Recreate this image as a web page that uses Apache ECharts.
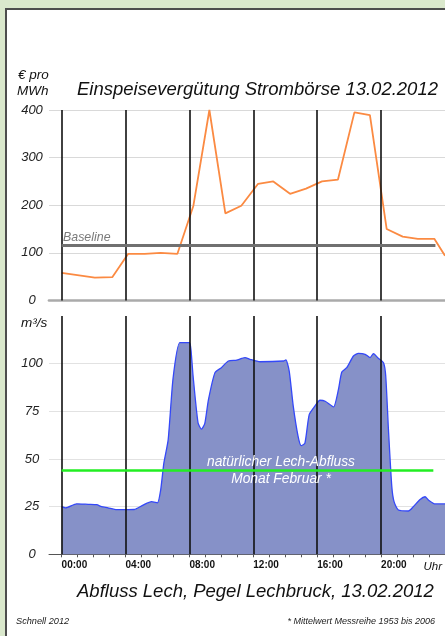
<!DOCTYPE html>
<html><head><meta charset="utf-8">
<script src="https://cdn.jsdelivr.net/npm/echarts@6/dist/echarts.min.js"></script>
<style>html,body{margin:0;padding:0;background:#dae8cc}#c{width:445px;height:636px}</style>
</head><body><div id="c"></div>
<script>
// Strombörse price (€ pro MWh), time in hours
const priceHours  = [0, 2.08, 3.17, 4.17, 5.2, 6.2, 7.25, 8.25, 9.25, 10.25, 11.25, 12.3, 13.25, 14.3, 15.3, 16.3, 17.3, 18.33, 19.3, 20.35, 21.35, 22.3, 23.33, 24];
const priceValues = [58, 48, 49, 98, 98, 100, 98, 199, 400, 183, 199, 245, 250, 224, 235, 250, 254, 395, 389, 150, 134, 129.5, 129.5, 94];
// Abfluss Lech (m³/s)
const flowHours  = [0, 0.25, 0.94, 1.67, 2.2, 2.5, 2.9, 3.45, 4.55, 5.1, 5.63, 6.0, 6.2, 6.4, 6.67, 6.98, 7.4, 8.0, 8.1, 8.23, 8.54, 8.75, 8.96, 9.19, 9.6, 10.0, 10.44, 10.96, 11.48, 11.79, 12.42, 13.9, 14.04, 14.25, 14.5, 14.8, 15.0, 15.23, 15.5, 15.85, 16.17, 16.5, 17.02, 17.33, 17.54, 17.85, 18.27, 18.58, 19.0, 19.31, 19.52, 19.83, 20.15, 20.29, 20.46, 20.67, 20.81, 21.08, 21.71, 22.02, 22.44, 22.75, 22.96, 23.38, 24.0];
const flowValues = [25, 24.4, 26.5, 26.2, 26, 25, 24.4, 23.4, 23.5, 25.8, 27.6, 27, 33.7, 47.8, 60, 92.6, 111, 111, 107, 93.5, 68.9, 65.7, 68.5, 81, 95.3, 97.9, 101.4, 101.9, 103.2, 102.3, 101, 101.4, 102, 96, 77.7, 62, 57, 58.3, 73.3, 77.7, 80.8, 80.3, 77.3, 86.5, 95.6, 97.9, 104, 105.4, 104.9, 103.2, 105.3, 102.8, 100.5, 93.5, 65.4, 35.5, 27.6, 23.2, 22.7, 25, 28.8, 30.2, 28.5, 26.4, 26.4];

const divisionHours = [0, 4, 8, 12, 16, 20];
const tickHours = [0,1,2,3,4,5,6,7,8,9,10,11,12,13,14,15,16,17,18,19,20,21,22,23,24];
const labelHours = [0, 4, 8, 12, 16, 20];
const unitLabelHour = 22.65;
const baselineValue = 115.5, baselineEnd = 23.4;
const naturalFlowValue = 44.2, naturalFlowEnd = 23.27;

const FONT = 'Liberation Sans, Arial, sans-serif';
const zip = (a, b) => a.map((x, i) => [x, b[i]]);
const verticals = divisionHours.map(h => ({ xAxis: h, lineStyle: { color: '#111', width: 1.6, type: 'solid' } }));
const txt = (x, y, text, size, fill, extra) => ({ type: 'text', x, y, z: 100,
  style: Object.assign({ text, fontFamily: FONT, fontStyle: 'italic', fontSize: size, fill, verticalAlign: 'middle' }, extra || {}) });

const chart = echarts.init(document.getElementById('c'));
chart.setOption({
  animation: false,
  backgroundColor: '#dae8cc',
  grid: [
    { left: 49, right: 0, top: 110, height: 190.5 },
    { left: 49, right: 0, top: 316, height: 238.3 }
  ],
  xAxis: [
    { gridIndex: 0, type: 'value', min: -0.79, max: 24,
      axisLine: { show: true, onZero: false, lineStyle: { color: '#aaaaaa', width: 2.7 } },
      axisTick: { show: false }, axisLabel: { show: false }, splitLine: { show: false } },
    { gridIndex: 1, type: 'value', min: -0.79, max: 24,
      axisLine: { show: true, onZero: false, lineStyle: { color: '#555', width: 1 } },
      axisTick: { show: true, customValues: tickHours, length: 3, lineStyle: { color: '#555' } },
      axisLabel: { show: true, customValues: labelHours.concat([unitLabelHour]), align: 'left', margin: 6,
        fontFamily: FONT, fontWeight: 'bold', fontSize: 10, color: '#111',
        formatter: v => v > 21 ? '{u|Uhr}' : (String(Math.round(v)).padStart(2, '0') + ':00'),
        rich: { u: { fontFamily: FONT, fontStyle: 'italic', fontWeight: 'normal', fontSize: 11.5, color: '#111' } } },
      splitLine: { show: false } }
  ],
  yAxis: [
    { gridIndex: 0, type: 'value', min: 0, max: 400, interval: 100,
      axisLine: { show: false }, axisTick: { show: false },
      axisLabel: { align: 'center', margin: 17, fontFamily: FONT, fontStyle: 'italic', fontSize: 13, color: '#222' },
      splitLine: { show: true, showMinLine: false, lineStyle: { color: '#d9d9d9', width: 1.2 } } },
    { gridIndex: 1, type: 'value', min: 0, max: 125, interval: 25,
      axisLine: { show: false }, axisTick: { show: false },
      axisLabel: { align: 'center', margin: 17, showMaxLabel: false, fontFamily: FONT, fontStyle: 'italic', fontSize: 13, color: '#222' },
      splitLine: { show: true, showMinLine: false, showMaxLine: false, lineStyle: { color: '#e2e2e2', width: 1.2 } } }
  ],
  series: [
    { type: 'line', xAxisIndex: 0, yAxisIndex: 0, data: zip(priceHours, priceValues),
      symbol: 'none', lineStyle: { color: '#fb8a42', width: 1.8 }, z: 3,
      markLine: { silent: true, symbol: ['none', 'none'], label: { show: false },
        data: verticals.concat([[
          { coord: [0, baselineValue], lineStyle: { color: '#707070', width: 3, type: 'solid' } },
          { coord: [baselineEnd, baselineValue] }
        ]]) } },
    { type: 'line', xAxisIndex: 1, yAxisIndex: 1, data: zip(flowHours, flowValues),
      symbol: 'none', smooth: 0.2, lineStyle: { color: '#3448f8', width: 1.3 },
      areaStyle: { color: '#8691c8', opacity: 1 }, z: 3,
      markLine: { silent: true, symbol: ['none', 'none'], label: { show: false },
        data: verticals.concat([[
          { coord: [0, naturalFlowValue], lineStyle: { color: '#22ee22', width: 2.5, type: 'solid' } },
          { coord: [naturalFlowEnd, naturalFlowValue] }
        ]]) } }
  ],
  graphic: [
    { type: 'rect', z: -100, shape: { x: 6, y: 9, width: 460, height: 640 },
      style: { fill: '#ffffff', stroke: '#4d4d4d', lineWidth: 2 } },
    txt(18, 75, '€ pro', 13.5, '#111'),
    txt(17, 91, 'MWh', 13.5, '#111'),
    txt(77, 90, 'Einspeisevergütung Strombörse 13.02.2012', 18.5, '#111'),
    txt(63, 238, 'Baseline', 12.4, '#7a7a7a'),
    txt(21, 323, 'm³/s', 13.5, '#111'),
    txt(281, 462, 'natürlicher Lech-Abfluss', 13.8, '#ffffff', { align: 'center' }),
    txt(281, 479, 'Monat Februar *', 13.8, '#ffffff', { align: 'center' }),
    txt(77, 592, 'Abfluss Lech, Pegel Lechbruck, 13.02.2012', 18.5, '#111'),
    txt(16, 621, 'Schnell 2012', 9.2, '#222'),
    txt(435, 621, '* Mittelwert Messreihe 1953 bis 2006', 9, '#222', { align: 'right' })
  ]
});
</script>
</body></html>
